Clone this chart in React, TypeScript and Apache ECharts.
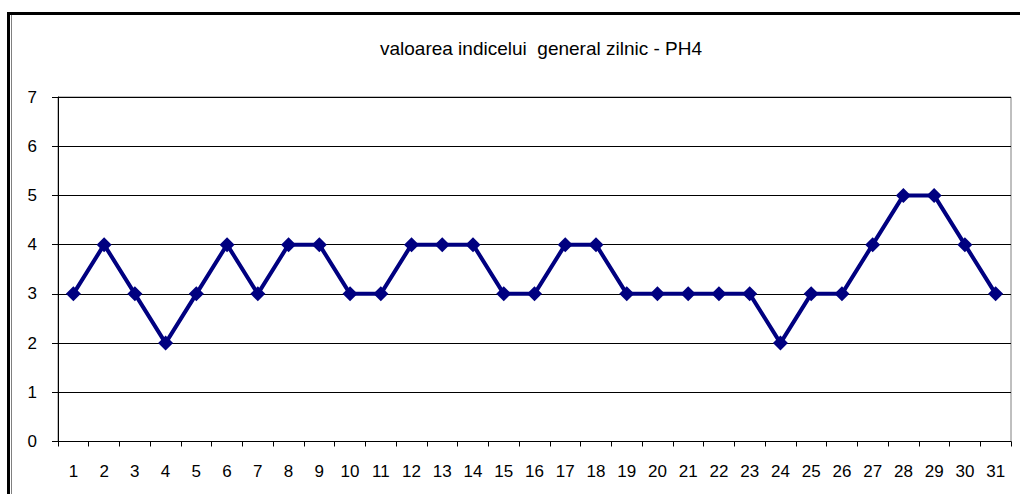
import React, { useEffect, useRef } from "react";
import * as echarts from "echarts";

const days = ["1","2","3","4","5","6","7","8","9","10","11","12","13","14","15","16","17","18","19","20","21","22","23","24","25","26","27","28","29","30","31"];
const values = [3,4,3,2,3,4,3,4,4,3,3,4,4,4,3,3,4,4,3,3,3,3,3,2,3,3,4,5,5,4,3];
const titleText = "valoarea indicelui  general zilnic - PH4";

export default function App() {
  const ref = useRef<HTMLDivElement>(null);
  useEffect(() => {
    const chart = echarts.init(ref.current!, null, { renderer: "svg" });
    const font = "Liberation Sans, Arial, sans-serif";
    chart.setOption({
      animation: false,
      backgroundColor: "#ffffff",
      title: {
        text: titleText,
        left: 536,
        top: 34,
        textAlign: "center",
        textStyle: { fontFamily: font, fontSize: 19, fontWeight: "normal", color: "#000" },
      },
      grid: { left: 58, top: 97, right: 9, bottom: 52.5, show: true, borderColor: "#808080", borderWidth: 1 },
      xAxis: {
        type: "category",
        data: days,
        boundaryGap: true,
        axisLine: { lineStyle: { color: "#000", width: 1 } },
        axisTick: { show: true, inside: false, length: 5, lineStyle: { color: "#000" }, alignWithLabel: false },
        axisLabel: { fontFamily: font, fontSize: 17, color: "#000", margin: 21, interval: 0 },
        splitLine: { show: false },
      },
      yAxis: {
        type: "value",
        min: 0,
        max: 7,
        interval: 1,
        axisLine: { show: true, lineStyle: { color: "#000", width: 1 } },
        axisTick: { show: true, length: 6, lineStyle: { color: "#000" } },
        axisLabel: { fontFamily: font, fontSize: 17, color: "#000", margin: 21 },
        splitLine: { show: true, lineStyle: { color: "#000", width: 1 } },
      },
      series: [
        {
          type: "line",
          data: values,
          symbol: "diamond",
          symbolSize: 15,
          lineStyle: { color: "#000080", width: 4 },
          itemStyle: { color: "#000080" },
          z: 5,
        },
      ],
      graphic: [
        {
          type: "rect",
          shape: { x: 8.5, y: 13.5, width: 1100, height: 600 },
          style: { fill: "none", stroke: "#000", lineWidth: 3 },
          silent: true,
        },
        {
          type: "line",
          shape: { x1: 11.5, y1: 15, x2: 11.5, y2: 494 },
          style: { stroke: "#808080", lineWidth: 1 },
          silent: true,
        },
      ],
    });
    return () => chart.dispose();
  }, []);
  return <div ref={ref} style={{ position: "fixed", left: 0, top: 0, width: 1020, height: 494 }} />;
}
